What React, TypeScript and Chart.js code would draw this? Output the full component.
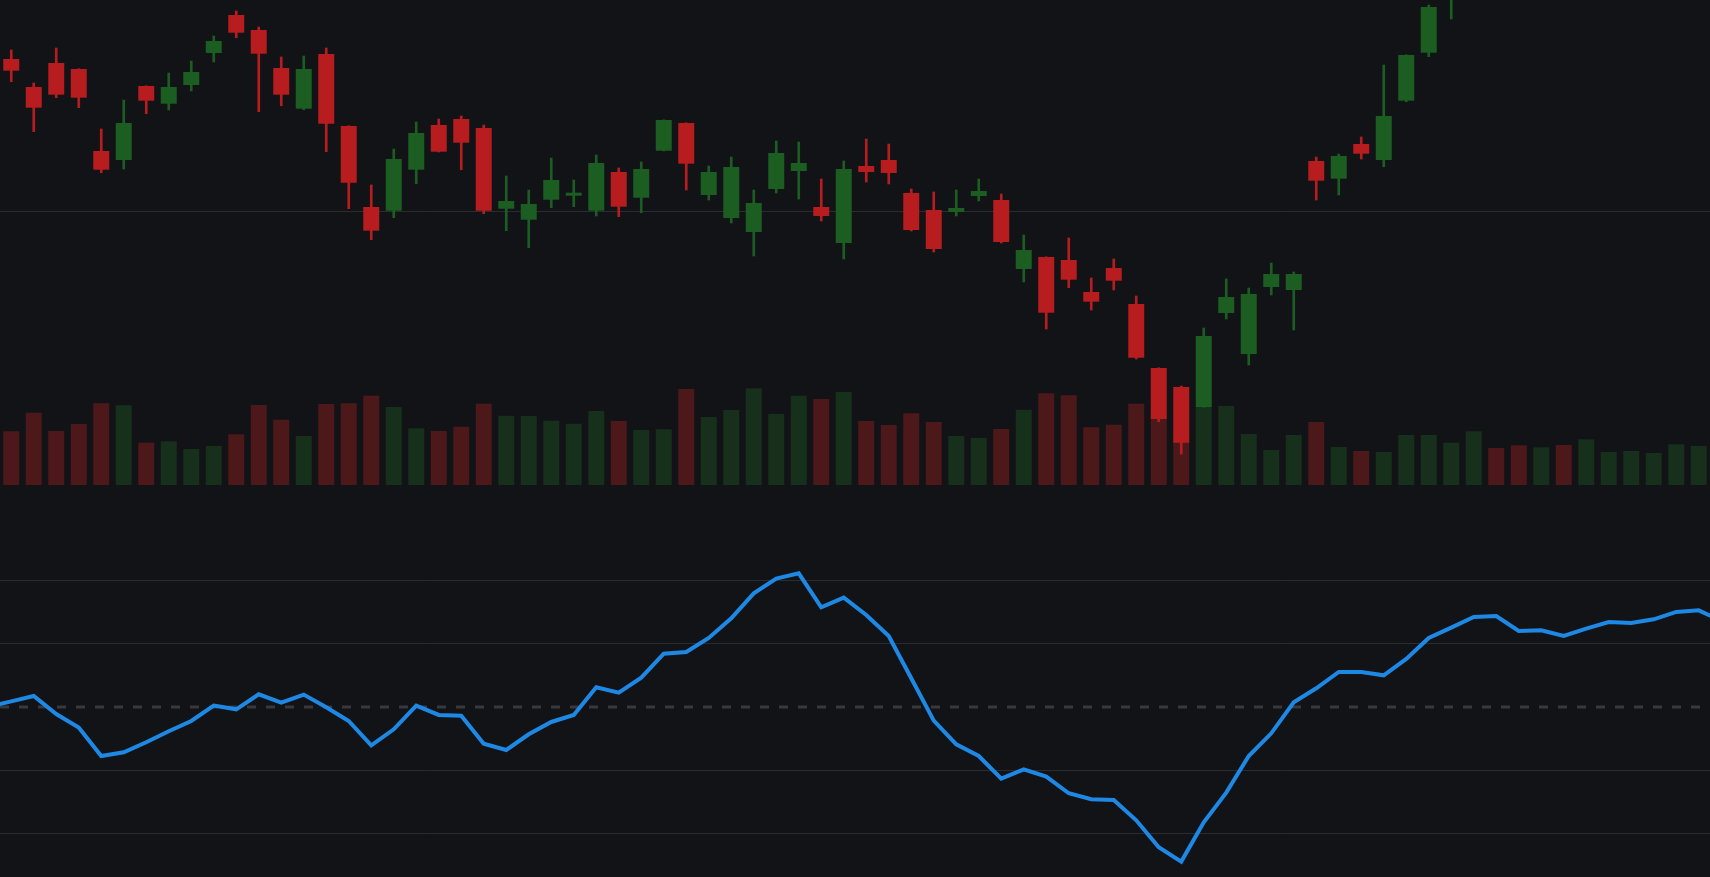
import { useEffect, useRef } from 'react';
import { Chart, registerables } from 'chart.js';

Chart.register(...registerables);

// candle values, one entry per session (the last ones sit above the visible price range)
const opens = [
    195.30, 192.50, 194.90, 194.30, 186.10, 185.20, 192.60, 190.83, 192.70, 195.90,
    199.70, 198.20, 194.40, 190.33, 195.80, 188.60, 180.50, 180.13, 184.23, 188.70,
    189.30, 188.40, 180.33, 179.23, 181.23, 181.63, 180.13, 184.00, 181.43, 186.13,
    188.90, 181.70, 179.40, 178.00, 182.30, 184.10, 180.50, 176.90, 184.60, 185.20,
    181.90, 180.20, 180.00, 181.60, 181.20, 174.30, 175.50, 175.20, 172.00, 174.40,
    170.80, 164.40, 162.50, 160.50, 169.90, 165.80, 172.50, 172.20, 185.10, 183.33,
    186.80, 185.20, 191.13, 195.93, 203.50, 207.00, 210.40, 208.80, 207.60, 209.20,
    208.20, 210.00, 211.20, 211.90, 212.70, 214.10,
];
const highs = [
    196.20, 192.90, 196.40, 194.33, 188.30, 191.20, 192.62, 193.90, 195.10, 197.60,
    200.10, 198.50, 195.50, 195.60, 196.40, 188.62, 182.70, 186.30, 189.00, 189.30,
    189.60, 188.70, 183.60, 182.20, 185.40, 183.20, 185.70, 184.40, 185.00, 189.22,
    188.92, 184.60, 185.50, 182.20, 187.10, 187.00, 183.30, 185.10, 187.30, 186.80,
    182.30, 182.00, 182.20, 183.30, 181.80, 177.70, 175.52, 177.40, 173.40, 175.30,
    171.60, 164.42, 162.60, 168.40, 173.30, 172.40, 174.90, 174.00, 185.50, 185.80,
    187.50, 194.70, 195.72, 200.70, 208.00, 211.20, 211.00, 209.60, 209.90, 210.00,
    210.80, 212.00, 212.60, 213.50, 214.90, 215.80,
];
const lows = [
    193.03, 188.03, 191.43, 190.43, 183.93, 184.30, 189.83, 190.20, 192.10, 195.00,
    197.43, 190.03, 190.63, 190.23, 186.03, 180.33, 177.23, 179.43, 182.83, 186.00,
    184.23, 179.83, 178.13, 176.43, 180.43, 180.53, 179.60, 179.53, 179.93, 186.11,
    182.20, 181.20, 178.90, 175.60, 181.90, 181.30, 179.10, 175.30, 183.00, 182.80,
    178.10, 176.00, 179.60, 181.10, 176.90, 173.00, 168.30, 172.43, 170.20, 172.20,
    165.30, 159.03, 155.80, 160.48, 169.30, 164.70, 171.70, 168.20, 181.20, 181.70,
    185.30, 184.53, 191.03, 195.53, 199.30, 206.10, 207.90, 206.40, 206.90, 207.40,
    207.70, 209.40, 210.50, 211.30, 212.10, 213.60,
];
const closes = [
    194.13, 190.43, 191.73, 191.43, 184.23, 188.90, 191.13, 192.50, 194.00, 197.10,
    197.93, 195.83, 191.73, 194.30, 188.83, 182.93, 178.13, 185.30, 187.90, 186.03,
    186.93, 180.13, 181.10, 180.80, 183.20, 181.93, 184.90, 180.53, 184.30, 189.20,
    184.83, 184.00, 184.50, 180.90, 185.90, 184.90, 179.60, 184.30, 184.00, 183.90,
    178.20, 176.30, 180.40, 182.10, 177.00, 176.20, 169.93, 173.23, 171.03, 173.13,
    165.43, 159.30, 156.93, 167.60, 171.50, 171.80, 173.80, 173.80, 183.13, 185.60,
    185.83, 189.60, 195.70, 200.50, 207.00, 210.50, 208.60, 207.50, 209.00, 208.10,
    210.00, 211.30, 211.90, 212.80, 214.20, 215.00,
];
// volume in millions
const volumes = [
    5.37, 7.23, 5.40, 6.10, 8.17, 7.97, 4.23, 4.37, 3.60, 3.90,
    5.07, 8.00, 6.53, 4.90, 8.10, 8.17, 8.93, 7.80, 5.67, 5.40,
    5.83, 8.13, 6.93, 6.90, 6.43, 6.12, 7.40, 6.40, 5.50, 5.57,
    9.60, 6.80, 7.50, 9.67, 7.10, 8.93, 8.60, 9.30, 6.40, 6.00,
    7.17, 6.30, 4.90, 4.70, 5.60, 7.53, 9.17, 8.97, 5.77, 6.03,
    8.12, 7.00, 5.00, 7.80, 7.90, 5.10, 3.50, 5.00, 6.30, 3.80,
    3.40, 3.30, 5.00, 5.00, 4.23, 5.37, 3.70, 3.97, 3.77, 4.00,
    4.57, 3.30, 3.40, 3.20, 4.07, 3.90,
];
// oscillator, one value before the first session and one after the last
const oscillator = [
    50.05,
    50.89, 51.74, 48.89, 46.74, 42.26, 42.84, 44.42, 46.16, 47.79, 50.21,
    49.63, 52.00, 50.68, 51.95, 49.95, 47.79, 43.95, 46.47, 50.21, 48.74,
    48.63, 44.21, 43.21, 45.68, 47.63, 48.74, 53.11, 52.26, 54.63, 58.42,
    58.68, 60.89, 64.00, 67.95, 70.26, 71.11, 65.74, 67.26, 64.53, 61.21,
    54.53, 47.84, 44.11, 42.26, 38.68, 40.16, 39.00, 36.37, 35.42, 35.32,
    32.10, 27.84, 25.58, 31.79, 36.47, 42.26, 45.84, 50.74, 52.95, 55.53,
    55.53, 55.00, 57.58, 60.89, 62.53, 64.21, 64.37, 62.00, 62.11, 61.21,
    62.37, 63.42, 63.26, 63.84, 65.00, 65.26,
    63.58,
];
const priceGridLevels = [180];
const oscGridLevels = [30, 40, 60, 70];
const OSC_MID = 50;

const BG = '#121317';
const GRID = '#2b2c30';
const UP = '#1c5e22';
const DOWN = '#b71d1e';
const UP_VOL = '#16301c';
const DOWN_VOL = '#4c181a';

const W = 1710;
const TOP_H = 485;
const BOTTOM_H = 392;

const midLinePlugin = {
    id: 'midLinePlugin',
    beforeDatasetsDraw: (chart: any) => {
        const ctx = chart.ctx;
        const y = Math.round(chart.scales.y.getPixelForValue(OSC_MID));
        ctx.save();
        ctx.beginPath();
        ctx.setLineDash([9, 10]);
        ctx.lineWidth = 3;
        ctx.strokeStyle = '#38393d';
        ctx.moveTo(chart.chartArea.left, y);
        ctx.lineTo(chart.chartArea.right, y);
        ctx.stroke();
        ctx.restore();
    }
}

const App: React.FC = () => {
    const priceRef = useRef<HTMLCanvasElement>(null);
    const oscRef = useRef<HTMLCanvasElement>(null);

    useEffect(() => {
        if (!priceRef.current || !oscRef.current) return;

        const isUp = opens.map((o, i) => closes[i] >= o);
        const xAxis: any = { type: 'linear', min: -0.5, max: opens.length - 0.5, offset: false, display: false };

        const priceChart = new Chart(priceRef.current, {
            type: 'bar',
            data: {
                datasets: [
                    {
                        label: 'Body',
                        data: opens.map((o, i) => ({ x: i, y: [o, closes[i]] })) as any,
                        backgroundColor: isUp.map(u => u ? UP : DOWN),
                        grouped: false,
                        categoryPercentage: 1,
                        barPercentage: 0.71,
                        yAxisID: 'y',
                        order: 1
                    },
                    {
                        label: 'Wick',
                        data: lows.map((l, i) => ({ x: i, y: [l, highs[i]] })) as any,
                        backgroundColor: isUp.map(u => u ? UP : DOWN),
                        grouped: false,
                        barThickness: 2,
                        yAxisID: 'y',
                        order: 2
                    },
                    {
                        label: 'Volume',
                        data: volumes.map((v, i) => ({ x: i, y: v })) as any,
                        backgroundColor: isUp.map(u => u ? UP_VOL : DOWN_VOL),
                        grouped: false,
                        categoryPercentage: 1,
                        barPercentage: 0.71,
                        yAxisID: 'vol',
                        order: 3
                    }
                ]
            },
            options: {
                responsive: false,
                animation: false,
                events: [],
                layout: { padding: 0 },
                scales: {
                    x: xAxis,
                    y: {
                        min: 152.7,
                        max: 201.2,
                        afterBuildTicks: (scale: any) => {
                            scale.ticks = priceGridLevels.map(value => ({ value }));
                        },
                        ticks: { display: false },
                        grid: { color: GRID, lineWidth: 1, drawTicks: false },
                        border: { display: false }
                    },
                    vol: {
                        min: 0,
                        max: 48.5,
                        display: false
                    }
                },
                plugins: {
                    legend: { display: false },
                    tooltip: { enabled: false }
                }
            }
        });

        const oscChart = new Chart(oscRef.current, {
            type: 'line',
            data: {
                datasets: [
                    {
                        label: 'Oscillator',
                        data: oscillator.map((v, i) => ({ x: i - 1, y: v })),
                        borderColor: '#1e88e5',
                        borderWidth: 4,
                        pointRadius: 0,
                        tension: 0,
                        fill: false
                    }
                ]
            },
            options: {
                responsive: false,
                animation: false,
                events: [],
                layout: { padding: 0 },
                scales: {
                    x: xAxis,
                    y: {
                        min: 23.15,
                        max: 85.05,
                        afterBuildTicks: (scale: any) => {
                            scale.ticks = oscGridLevels.map(value => ({ value }));
                        },
                        ticks: { display: false },
                        grid: { color: GRID, lineWidth: 1, drawTicks: false },
                        border: { display: false }
                    }
                },
                plugins: {
                    legend: { display: false },
                    tooltip: { enabled: false }
                }
            },
            plugins: [midLinePlugin]
        });

        return () => {
            priceChart.destroy();
            oscChart.destroy();
        }
    }, [])

    return (
        <div style={{ position: 'fixed', left: 0, top: 0, width: W, height: TOP_H + BOTTOM_H, background: BG, overflow: 'hidden' }}>
            <canvas ref={priceRef} width={W} height={TOP_H} style={{ display: 'block' }}></canvas>
            <canvas ref={oscRef} width={W} height={BOTTOM_H} style={{ display: 'block' }}></canvas>
        </div>
    )
};

export default App;
